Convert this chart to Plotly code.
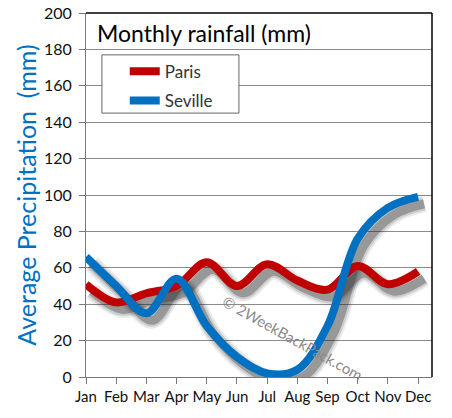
import plotly.graph_objects as go

months = ["Jan", "Feb", "Mar", "Apr", "May", "Jun", "Jul", "Aug", "Sep", "Oct", "Nov", "Dec"]
paris = [51, 41, 46, 50, 63, 50, 62, 53, 48, 61, 51, 58]
seville = [66, 50, 35, 54, 28, 11, 2, 4, 28, 76, 93, 99]
y_ticks = [0, 20, 40, 60, 80, 100, 120, 140, 160, 180, 200]

RED = "#C00000"
BLUE = "#0070C0"

fig = go.Figure()

# shadows drawn on an offset overlay (axes x / y), main lines on x2 / y2
for series in (paris, seville):
    for w, op in ((17, 0.09), (13, 0.14), (9, 0.30)):
        fig.add_trace(go.Scatter(
            x=months, y=series, mode="lines", xaxis="x", yaxis="y",
            line=dict(color="#222222", width=w, shape="spline", smoothing=1.0),
            opacity=op, showlegend=False, hoverinfo="skip"))

fig.add_trace(go.Scatter(x=months, y=paris, name="Paris", mode="lines",
                         xaxis="x2", yaxis="y2", legendgroup="p",
                         line=dict(color=RED, width=8, shape="spline", smoothing=1.0)))
fig.add_trace(go.Scatter(x=months, y=seville, name="Seville", mode="lines",
                         xaxis="x2", yaxis="y2", legendgroup="s",
                         line=dict(color=BLUE, width=8, shape="spline", smoothing=1.0)))

x_span = 11.46
x_px = x_span / 346.0
y_px = 200 / 364.0
dx = 6 * x_px
dy = 7 * y_px

fig.update_layout(
    width=452, height=418,
    margin=dict(l=86, r=20, t=13, b=41),
    paper_bgcolor="white", plot_bgcolor="white",
    font=dict(family="Lato", color="#111111"),
    xaxis=dict(type="category", categoryorder="array", categoryarray=months,
               range=[-dx, x_span - dx], showgrid=False, showticklabels=False,
               ticks="", showline=False, zeroline=False, automargin=False),
    yaxis=dict(range=[dy, 200 + dy], showgrid=False, showticklabels=False,
               ticks="", showline=False, zeroline=False, automargin=False),
    xaxis2=dict(type="category", categoryorder="array", categoryarray=months,
                overlaying="x", range=[0, x_span], showgrid=False,
                ticks="outside", ticklen=6, tickcolor="#777777",
                showline=True, linecolor="#777777", linewidth=1,
                tickfont=dict(family="Lato", size=15, color="#111111"),
                anchor="y2", automargin=False),
    yaxis2=dict(overlaying="y", range=[0, 200], tickvals=y_ticks,
                showgrid=True, gridcolor="#8a8a8a", gridwidth=1,
                ticks="outside", ticklen=6, tickcolor="#777777",
                showline=True, linecolor="#777777", linewidth=1, zeroline=False,
                tickfont=dict(family="Lato", size=16, color="#111111"),
                ticklabelstandoff=4,
                title=dict(text="Average Precipitation  (mm)",
                           font=dict(family="Lato", size=25, color=BLUE),
                           standoff=0),
                anchor="x2", automargin=False),
    legend=dict(x=0.112, y=0.888, xanchor="left", yanchor="top",
                bgcolor="rgba(0,0,0,0)", borderwidth=0,
                font=dict(family="Lato", size=17, color="#333333"),
                itemwidth=30, tracegroupgap=4),
    shapes=[
        dict(type="rect", xref="paper", yref="paper", x0=0.046, x1=0.442,
             y0=0.725, y1=0.885, fillcolor="white", layer="above",
             line=dict(color="#666666", width=1)),
        dict(type="line", xref="paper", yref="paper", x0=0, x1=1, y0=1, y1=1,
             line=dict(color="black", width=1.5)),
        dict(type="line", xref="paper", yref="paper", x0=1, x1=1, y0=0, y1=1,
             line=dict(color="black", width=1.5)),
    ],
    annotations=[
        dict(text="Monthly rainfall (mm)", xref="paper", yref="paper",
             x=0.026, y=0.99, xanchor="left", yanchor="top", showarrow=False,
             font=dict(family="Lato", size=23, color="black")),
        dict(text="© 2WeekBackPack.com", xref="paper", yref="paper",
             x=0.598, y=0.107, xanchor="center", yanchor="middle",
             showarrow=False, textangle=29,
             font=dict(family="Lato", size=15, color="#8a8a8a")),
    ],
)

fig.write_html("out.html", config={"displayModeBar": False},
               post_script="document.body.style.margin='0';")
